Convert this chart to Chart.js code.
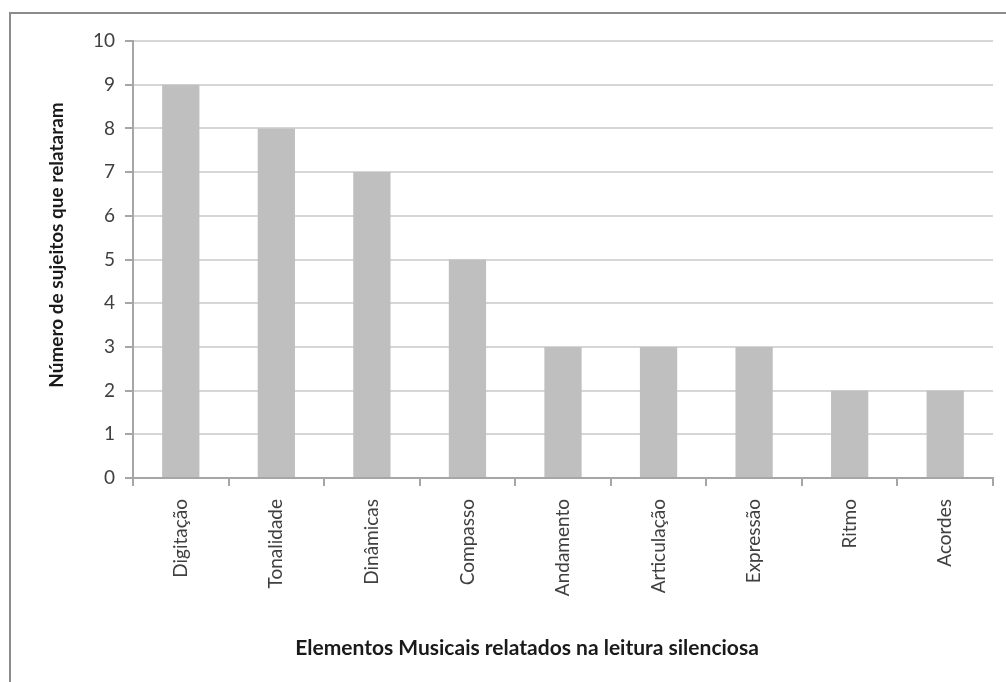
<!DOCTYPE html>
<html>
<head>
<meta charset="utf-8">
<script src="https://cdn.jsdelivr.net/npm/chart.js@4.4.0/dist/chart.umd.min.js"></script>
<style>
    html, body { margin: 0; padding: 0; background: #fff; }
    #wrap { position: relative; width: 1006px; height: 682px; overflow: hidden; }
    #frame {
        position: absolute; left: 9px; top: 12px; width: 1100px; height: 800px;
        border-left: 2px solid #8c8c8c; border-top: 2px solid #8c8c8c;
    }
    canvas { position: absolute; left: 0; top: 0; }
</style>
</head>
<body>
<div id="wrap">
    <div id="frame"></div>
    <canvas id="barchart" width="1006" height="682"></canvas>
</div>
<script>
const categories = [
    "Digitação",
    "Tonalidade",
    "Dinâmicas",
    "Compasso",
    "Andamento",
    "Articulação",
    "Expressão",
    "Ritmo",
    "Acordes"
];
const counts = [9, 8, 7, 5, 3, 3, 3, 2, 2];
const yTicks = [0, 1, 2, 3, 4, 5, 6, 7, 8, 9, 10];
const xTitle = "Elementos Musicais relatados na leitura silenciosa";
const yTitle = "Número de sujeitos que relataram";

const fontFamily = "Lato, 'Open Sans', sans-serif";

// axis titles sit a bit off the plot centre in the original, so draw them by hand
const axisTitles = {
    id: "axisTitles",
    afterDraw(chart) {
        const c = chart.ctx;
        c.save();
        c.fillStyle = "#1a1a1a";
        c.textAlign = "center";
        c.textBaseline = "middle";
        c.font = "bold 21px " + fontFamily;
        c.fillText(xTitle, 527, 648);
        c.translate(57, 245);
        c.rotate(-Math.PI / 2);
        c.font = "bold 19px " + fontFamily;
        c.fillText(yTitle, 0, 0);
        c.restore();
    }
};

const ctx = document.getElementById("barchart").getContext("2d");

window.barChart = new Chart(ctx, {
    type: "bar",
    data: {
        labels: categories,
        datasets: [{
            label: "Número de sujeitos",
            data: counts,
            backgroundColor: "#bfbfbf",
            borderWidth: 0,
            categoryPercentage: 1,
            barPercentage: 0.39
        }]
    },
    options: {
        responsive: false,
        animation: false,
        layout: {
            padding: { left: 42, right: 13, top: 41, bottom: 20 }
        },
        plugins: {
            legend: { display: false },
            tooltip: { enabled: false }
        },
        scales: {
            x: {
                afterFit: (scale) => { scale.height = 184; },
                border: { color: "#a6a6a6", width: 2 },
                grid: {
                    drawOnChartArea: false,
                    drawTicks: true,
                    tickLength: 8,
                    tickColor: "#a6a6a6",
                    lineWidth: 2,
                    offset: true
                },
                ticks: {
                    minRotation: 90,
                    maxRotation: 90,
                    padding: 13,
                    color: "#404040",
                    font: { family: fontFamily, size: 19 }
                }
            },
            y: {
                min: 0,
                max: 10,
                afterFit: (scale) => { scale.width = 91; },
                afterBuildTicks: (scale) => {
                    scale.ticks = yTicks.map(v => ({ value: v }));
                },
                border: { color: "#a6a6a6", width: 2 },
                grid: {
                    color: "#d6d6d6",
                    lineWidth: 2,
                    tickLength: 8,
                    tickColor: "#a6a6a6"
                },
                ticks: {
                    padding: 10,
                    color: "#404040",
                    font: { family: fontFamily, size: 19 }
                }
            }
        }
    },
    plugins: [axisTitles]
});
</script>
</body>
</html>
